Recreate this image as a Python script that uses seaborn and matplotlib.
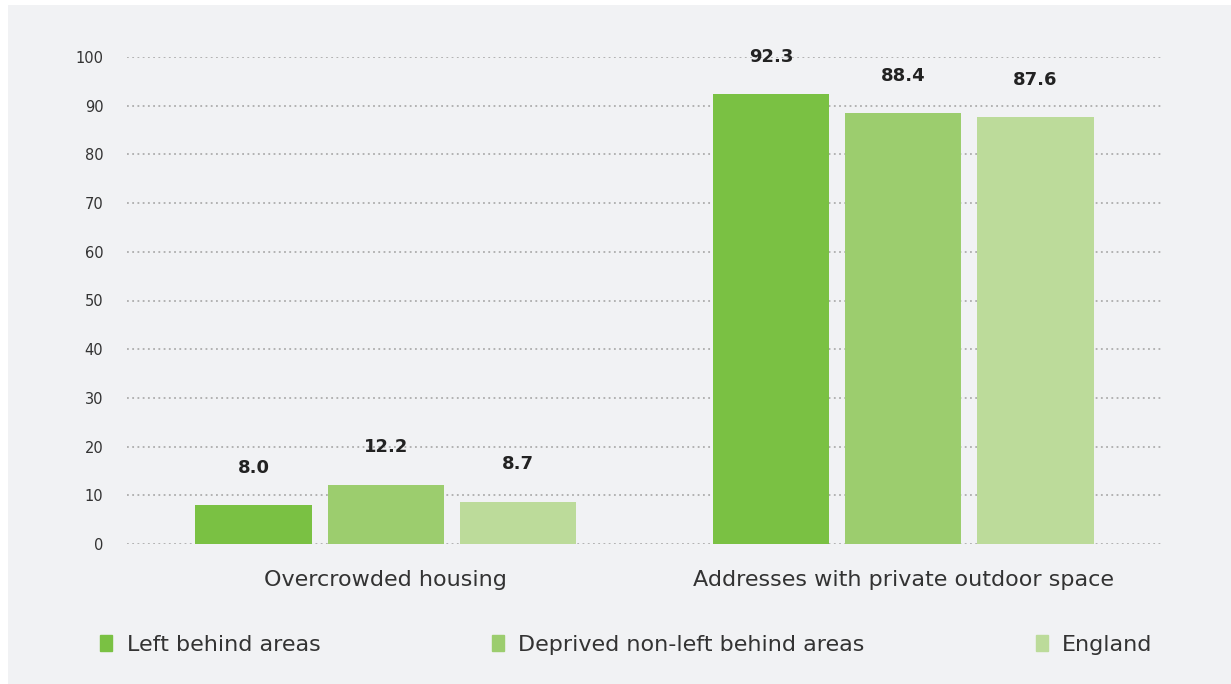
import matplotlib
matplotlib.use("Agg")
import matplotlib.pyplot as plt
import seaborn as sns
import pandas as pd
from matplotlib.patches import Rectangle

# Chart data
categories = ["Overcrowded housing", "Addresses with private outdoor space"]
groups = ["Left behind areas", "Deprived non-left behind areas", "England"]
left_behind = [8.0, 92.3]
deprived = [12.2, 88.4]
england = [8.7, 87.6]
y_ticks = [0, 10, 20, 30, 40, 50, 60, 70, 80, 90, 100]

colors = ["#7ac143", "#9ccd6e", "#bcdb9a"]
bg = "#f1f2f4"

df = pd.DataFrame({
    "category": categories * 3,
    "group": [groups[0]] * 2 + [groups[1]] * 2 + [groups[2]] * 2,
    "value": left_behind + deprived + england,
})

sns.set_style("white")
plt.rcParams["font.family"] = ["DejaVu Sans"]

fig = plt.figure(figsize=(12.31, 6.84), dpi=100)
fig.patch.set_facecolor("white")
fig.add_artist(Rectangle((8 / 1231, 0), 1 - 8 / 1231, 1 - 5 / 684,
                         transform=fig.transFigure, facecolor=bg,
                         edgecolor="none", zorder=-10))

# axes: x 127..1162 px, y 57..544 px
ax = fig.add_axes([127 / 1231, 1 - 544 / 684, (1162 - 127) / 1231, (544 - 57) / 684])
ax.set_facecolor(bg)

sns.barplot(data=df, x="category", y="value", hue="group", order=categories,
            hue_order=groups, palette=colors, width=0.766, gap=0.12,
            saturation=1, linewidth=0, ax=ax, legend=False)

ax.set_xlim(-0.5, 1.5)
ax.set_ylim(0, 100)
ax.set_yticks(y_ticks)
ax.yaxis.grid(True, linestyle=(0, (1, 1.9)), color="#adadad", linewidth=1.3)
ax.set_axisbelow(True)
for s in ax.spines.values():
    s.set_visible(False)
ax.tick_params(axis="y", length=0, pad=17, labelsize=10.5, labelcolor="#333333")
ax.tick_params(axis="x", length=0, pad=19, labelsize=16, labelcolor="#333333")
ax.set_xlabel("")
ax.set_ylabel("")

# value labels above bars
for cont in ax.containers:
    for bar in cont:
        h = bar.get_height()
        ax.annotate(f"{h:.1f}", (bar.get_x() + bar.get_width() / 2, h),
                    xytext=(0, 27), textcoords="offset points",
                    ha="center", va="center", fontsize=13,
                    fontweight="bold", color="#222222")

handles = [Rectangle((0, 0), 1, 1, color=c) for c in colors]
fig.legend(handles, groups, loc="center left", bbox_to_anchor=(80 / 1231, 1 - 645 / 684),
           ncol=3, frameon=False, fontsize=16, handlelength=0.55, handleheight=0.7,
           handletextpad=0.65, columnspacing=7.7, labelcolor="#333333")

fig.savefig("out.png", dpi=100, facecolor=fig.get_facecolor())
